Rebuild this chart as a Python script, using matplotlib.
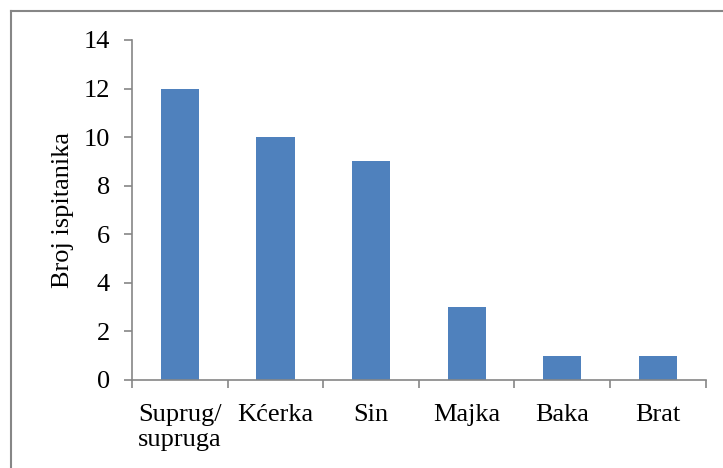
import matplotlib
matplotlib.use("Agg")
import matplotlib.pyplot as plt
from matplotlib.lines import Line2D

categories = ["Suprug/\nsupruga", "Kćerka", "Sin", "Majka", "Baka", "Brat"]
values = [12, 10, 9, 3, 1, 1]
yticks = [0, 2, 4, 6, 8, 10, 12, 14]

W, H = 723, 468
fig = plt.figure(figsize=(W / 100, H / 100), dpi=100)
plt.rcParams['font.family'] = ['Liberation Serif', 'DejaVu Serif']
fs = 19

ax = fig.add_axes([132 / W, 1 - 380 / H, (705.7 - 132) / W, (380 - 40) / H])
x = list(range(len(categories)))
ax.bar(x, values, width=0.4, color="#4F81BD", zorder=2)
ax.set_xlim(-0.5, len(categories) - 0.5)
ax.set_ylim(0, 14)
ax.set_yticks(yticks)
ax.set_yticklabels([str(v) for v in yticks], fontsize=fs)
ax.set_xticks(x)
ax.set_xticklabels(categories, fontsize=fs, linespacing=1.2)
ax.set_xticks([i - 0.5 for i in range(len(categories) + 1)], minor=True)
ax.tick_params(axis='x', which='major', length=0, pad=17)
ax.tick_params(axis='x', which='minor', length=8 * 0.72, width=1.2, color="#868686", direction='out')
ax.tick_params(axis='y', length=8 * 0.72, width=1.2, color="#868686", direction='out', pad=10)
for s in ['top', 'right']:
    ax.spines[s].set_visible(False)
for s in ['left', 'bottom']:
    ax.spines[s].set_color("#868686")
    ax.spines[s].set_linewidth(1.2)
ax.set_ylabel("Broj ispitanika", fontsize=fs, labelpad=7)

# outer frame (top and left visible)
fig.add_artist(Line2D([10.5 / W, 1.0], [1 - 10.5 / H, 1 - 10.5 / H], transform=fig.transFigure, color="#868686", lw=1.5))
fig.add_artist(Line2D([10.5 / W, 10.5 / W], [0, 1 - 10.5 / H], transform=fig.transFigure, color="#868686", lw=1.5))

fig.savefig("out.png", dpi=100)
